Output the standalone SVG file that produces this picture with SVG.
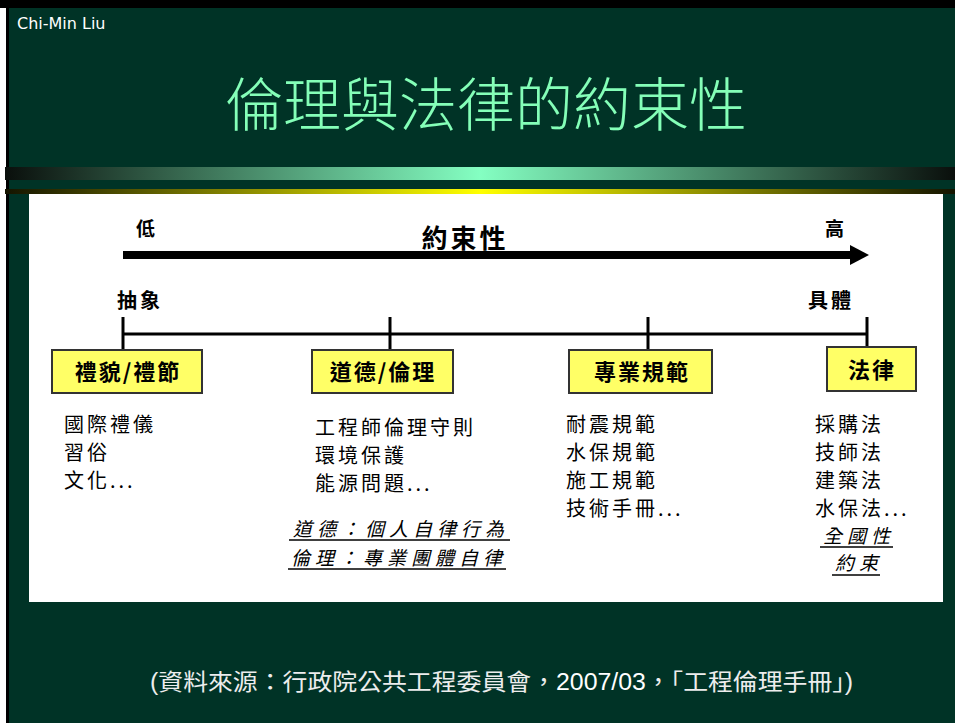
<svg xmlns="http://www.w3.org/2000/svg" width="955" height="723" viewBox="0 0 955 723">
<defs>
<linearGradient id="mint" x1="0" y1="0" x2="1" y2="0">
<stop offset="0" stop-color="#0a0f0c"/>
<stop offset="0.5" stop-color="#84FFC2"/>
<stop offset="1" stop-color="#0a0f0c"/>
</linearGradient>
<linearGradient id="yel" x1="0" y1="0" x2="1" y2="0">
<stop offset="0" stop-color="#141400"/>
<stop offset="0.5" stop-color="#FFFF00"/>
<stop offset="1" stop-color="#141400"/>
</linearGradient>
<marker id="ah" markerWidth="20" markerHeight="20" refX="0" refY="10" orient="auto" markerUnits="userSpaceOnUse">
<path d="M0,0 L19,10 L0,20 Z" fill="#000"/>
</marker>
<style>
.cjk{font-family:"Noto Sans CJK TC","Noto Sans CJK SC",sans-serif;}
.lbl{font-family:"Noto Sans CJK TC",sans-serif;font-weight:bold;fill:#000;}
.box{fill:#FFFF66;stroke:#333;stroke-width:2;}
.boxt{font-family:"Noto Sans CJK TC",sans-serif;font-weight:bold;font-size:22px;fill:#000;text-anchor:middle;letter-spacing:2px;}
.item{font-family:"Noto Sans CJK TC",sans-serif;font-size:20px;fill:#000;letter-spacing:3px;}
.note{font-family:"Noto Sans CJK TC",sans-serif;font-size:19px;fill:#000;font-style:italic;letter-spacing:5px;}
.ln{stroke:#000;stroke-width:3;fill:none;}
.ul{stroke:#000;stroke-width:1.5;}
</style>
</defs>
<rect x="0" y="0" width="955" height="723" fill="#ffffff"/>
<rect x="0" y="0" width="955" height="8" fill="#000"/>
<rect x="6" y="0" width="3" height="723" fill="#000"/>
<rect x="9" y="8" width="946" height="715" fill="#003326"/>
<text x="17" y="29" font-family="DejaVu Sans, sans-serif" font-size="16" fill="#ffffff">Chi-Min Liu</text>
<text x="486" y="126" class="cjk" font-size="58" font-weight="300" fill="#84FFB8" text-anchor="middle">倫理與法律的約束性</text>
<rect x="5" y="167" width="950" height="13" fill="url(#mint)"/>
<rect x="5" y="189" width="950" height="5" fill="url(#yel)"/>
<rect x="29" y="194" width="914" height="408" fill="#ffffff"/>

<g id="connectors">
<line x1="123" y1="255" x2="850" y2="255" stroke="#000" stroke-width="8" marker-end="url(#ah)"/>
<line class="ln" x1="123" y1="334" x2="867" y2="334"/>
<line class="ln" x1="123" y1="317" x2="123" y2="350"/>
<line class="ln" x1="390" y1="317" x2="390" y2="350"/>
<line class="ln" x1="648" y1="317" x2="648" y2="350"/>
<line class="ln" x1="867" y1="317" x2="867" y2="347"/>
</g>

<g id="axis-labels">
<text x="136" y="236" class="lbl" font-size="19">低</text>
<text x="825" y="236" class="lbl" font-size="19">高</text>
<text x="465" y="248" class="lbl" font-size="26" text-anchor="middle" letter-spacing="3">約束性</text>
<text x="117" y="308" class="lbl" font-size="20" letter-spacing="3">抽象</text>
<text x="808" y="308" class="lbl" font-size="20" letter-spacing="3">具體</text>
</g>

<g id="node-liyi">
<rect class="box" x="52" y="350" width="150" height="43"/>
<text class="boxt" x="128" y="380">禮貌/禮節</text>
<text class="item" x="64" y="432">國際禮儀</text>
<text class="item" x="64" y="460">習俗</text>
<text class="item" x="64" y="488">文化...</text>
</g>

<g id="node-daode">
<rect class="box" x="312" y="350" width="141" height="43"/>
<text class="boxt" x="383" y="380">道德/倫理</text>
<text class="item" x="315" y="435">工程師倫理守則</text>
<text class="item" x="315" y="463">環境保護</text>
<text class="item" x="315" y="491">能源問題...</text>
<text class="note" x="293" y="536">道德：個人自律行為</text>
<line class="ul" x1="289" y1="540" x2="510" y2="540"/>
<text class="note" x="291" y="565">倫理：專業團體自律</text>
<line class="ul" x1="288" y1="569" x2="506" y2="569"/>
</g>

<g id="node-guifan">
<rect class="box" x="569" y="350" width="143" height="43"/>
<text class="boxt" x="642" y="380">專業規範</text>
<text class="item" x="566" y="432">耐震規範</text>
<text class="item" x="566" y="460">水保規範</text>
<text class="item" x="566" y="488">施工規範</text>
<text class="item" x="566" y="516">技術手冊...</text>
</g>

<g id="node-falu">
<rect class="box" x="827" y="347" width="89" height="44"/>
<text class="boxt" x="872" y="378">法律</text>
<text class="item" x="815" y="432">採購法</text>
<text class="item" x="815" y="460">技師法</text>
<text class="item" x="815" y="488">建築法</text>
<text class="item" x="815" y="516">水保法...</text>
<text class="note" x="859" y="543" text-anchor="middle" letter-spacing="3">全國性</text>
<line class="ul" x1="820" y1="547" x2="893" y2="547"/>
<text class="note" x="859" y="570" text-anchor="middle" letter-spacing="3">約束</text>
<line class="ul" x1="832" y1="575" x2="880" y2="575"/>
</g>

<text x="150" y="690" font-family="Liberation Sans, Noto Sans CJK TC, sans-serif" font-size="23" fill="#EDEDED" textLength="703" lengthAdjust="spacingAndGlyphs">(資料來源：行政院公共工程委員會，<tspan fill="#ffffff">2007/03</tspan>，「工程倫理手冊」)</text>
</svg>
